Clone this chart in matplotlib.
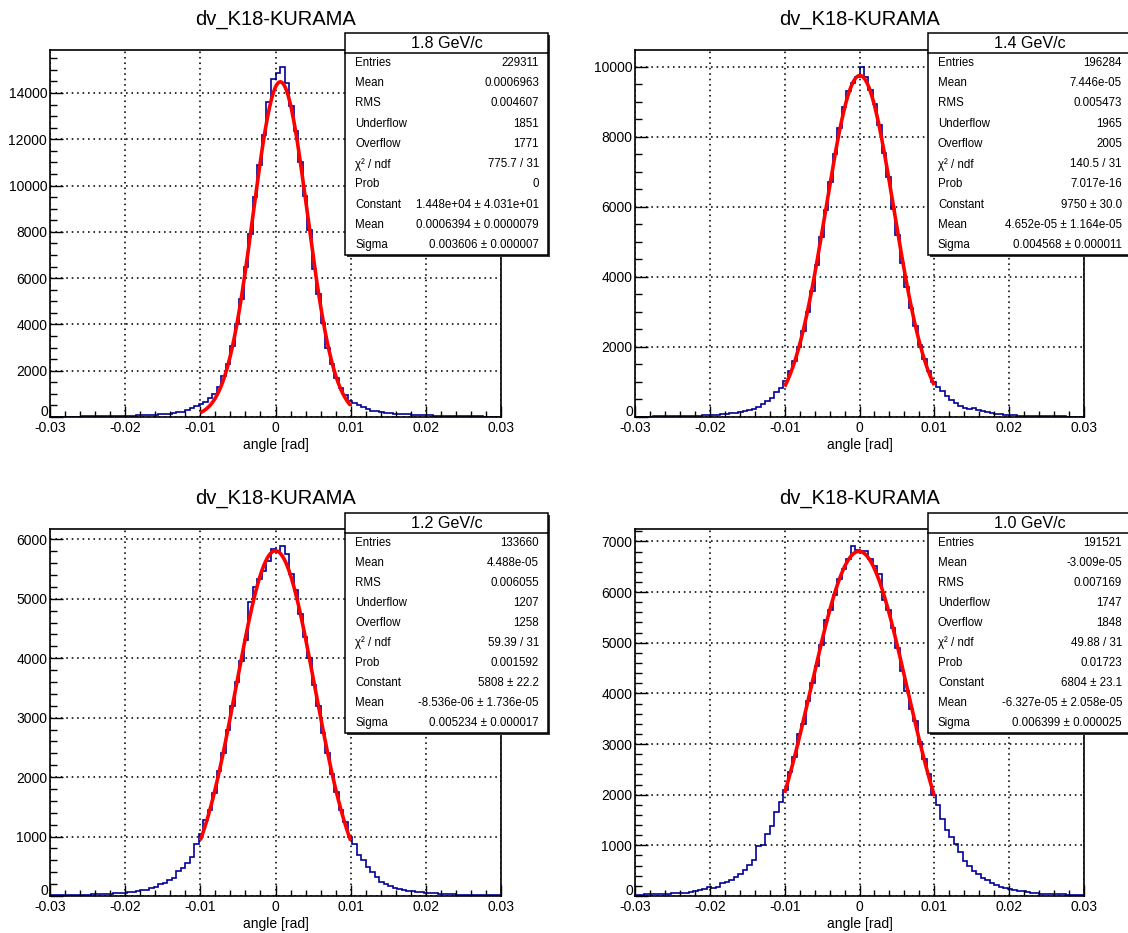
import numpy as np
import matplotlib
matplotlib.use("Agg")
import matplotlib.pyplot as plt
from matplotlib.patches import Rectangle
from matplotlib.ticker import MultipleLocator, FuncFormatter

plt.rcParams['font.family'] = ['Liberation Sans', 'DejaVu Sans']

W, H = 1128, 933
x_min, x_max, n_bins = -0.03, 0.03, 100
fit_lo, fit_hi = -0.01, 0.01

title = "dv_K18-KURAMA"
x_label = "angle [rad]"
momenta = ["1.8 GeV/c", "1.4 GeV/c", "1.2 GeV/c", "1.0 GeV/c"]

counts_18 = [10, 12, 14, 15, 17, 19, 21, 23, 25, 28, 30, 33, 36, 40, 44, 48, 52, 57, 62, 68,
             75, 82, 90, 100, 110, 125, 145, 165, 200, 230, 300, 400, 480,
             560, 650, 800, 1000, 1300, 1750, 2300, 3050, 4000, 5100,
             6500, 7900, 9500, 10900, 12200, 13600, 14600, 14850, 15100, 14450,
             13450, 12350, 11000, 9550, 8100, 6400, 5300, 4050, 3000, 2300,
             1700, 1250, 950, 700,
             620, 520, 420, 330, 280, 270, 210, 190, 170, 140, 130, 120, 110, 90, 80, 72, 70, 65, 60, 50,
             45, 40, 36, 33, 30, 28, 26, 24, 22, 20, 18, 17, 16]
counts_14 = [12, 12, 13, 14, 15, 16, 17, 18, 20, 22, 25, 28, 30, 35, 40, 45, 52, 60, 70, 80,
             95, 110, 125, 150, 170, 200, 240, 295, 380, 460, 550, 700, 840,
             1030, 1320, 1600, 2000, 2450, 3000, 3600, 4350, 5150, 5900,
             6700, 7500, 8250, 8850, 9300, 9550, 9700, 9980, 9700, 9350,
             8950, 8350, 7550, 6850, 5950, 5200, 4400, 3700, 3100, 2600,
             2050, 1650, 1300, 1000,
             870, 730, 590, 490, 390, 315, 250, 220, 260, 200, 160, 140, 110, 95, 75, 65, 55, 45, 40, 35,
             30, 27, 24, 22, 20, 18, 17, 16, 15, 14, 13, 12, 12]
counts_12 = [12, 12, 13, 14, 15, 17, 19, 21, 24, 27, 30, 33, 36, 40, 44, 48, 55, 62, 68, 78,
             95, 105, 135, 150, 205, 220, 265, 310, 420, 470, 560, 650, 870,
             1050, 1280, 1450, 1730, 2100, 2400, 2800, 3200, 3600, 3950,
             4300, 4950, 5200, 5330, 5470, 5640, 5840, 5780, 5880, 5750,
             5420, 5150, 4750, 4350, 4000, 3550, 3200, 2750, 2400, 2050,
             1750, 1450, 1250, 1000,
             880, 690, 600, 490, 410, 320, 240, 200, 165, 140, 120, 100, 90, 80, 70, 60, 55, 48, 45, 40,
             36, 32, 28, 25, 23, 21, 19, 17, 15, 14, 13, 12, 11]
counts_10 = [25, 28, 30, 32, 35, 38, 40, 45, 50, 55, 60, 65, 75, 95, 110, 130, 170, 165, 180, 260,
             280, 325, 380, 430, 510, 610, 710, 990, 1000, 1220, 1380, 1650, 1850,
             2100, 2450, 2750, 3200, 3400, 3850, 4200, 4550, 4950, 5450,
             5650, 5950, 6250, 6450, 6650, 6900, 6840, 6820, 6820, 6650,
             6520, 6350, 5850, 5650, 5300, 4900, 4450, 4050, 3700, 3450,
             3050, 2700, 2400, 2000,
             1800, 1520, 1300, 1170, 1020, 860, 690, 590, 500, 425, 365, 310, 260, 215, 180, 160, 140, 112, 93, 100,
             75, 62, 55, 48, 42, 38, 35, 32, 30, 28, 26, 25, 24]
all_counts = [counts_18, counts_14, counts_12, counts_10]

fit_constant = [14480, 9750, 5808, 6804]
fit_mean = [0.0006394, 4.652e-05, -8.536e-06, -6.327e-05]
fit_sigma = [0.003606, 0.004568, 0.005234, 0.006399]

stat_names = ["Entries", "Mean", "RMS", "Underflow", "Overflow", "χ² / ndf", "Prob",
              "Constant", "Mean", "Sigma"]
stats_18 = ["229311", "0.0006963", "0.004607", "1851", "1771", "775.7 / 31", "0",
            "1.448e+04 ± 4.031e+01", "0.0006394 ± 0.0000079", "0.003606 ± 0.000007"]
stats_14 = ["196284", "7.446e-05", "0.005473", "1965", "2005", "140.5 / 31", "7.017e-16",
            "9750 ± 30.0", "4.652e-05 ± 1.164e-05", "0.004568 ± 0.000011"]
stats_12 = ["133660", "4.488e-05", "0.006055", "1207", "1258", "59.39 / 31", "0.001592",
            "5808 ± 22.2", "-8.536e-06 ± 1.736e-05", "0.005234 ± 0.000017"]
stats_10 = ["191521", "-3.009e-05", "0.007169", "1747", "1848", "49.88 / 31", "0.01723",
            "6804 ± 23.1", "-6.327e-05 ± 2.058e-05", "0.006399 ± 0.000025"]
all_stats = [stats_18, stats_14, stats_12, stats_10]

y_major = [2000, 2000, 1000, 1000]
y_minor = [500, 500, 200, 200]

# layout in pixels (left, top, right, bottom)
axes_px = [(50, 50, 501, 417), (635, 50, 1084, 417), (50, 529, 501, 896), (635, 529, 1084, 896)]
box_px = [(345, 33, 548, 255), (928, 33, 1131, 255), (345, 513, 548, 733), (928, 513, 1131, 733)]

fig = plt.figure(figsize=(W / 100, H / 100), dpi=100)
fig.patch.set_facecolor('white')

def fx(px):
    return px / W

def fy(py):
    return 1 - py / H

def xfmt(v, p):
    if abs(v) < 1e-9:
        return "0"
    return "%g" % round(v, 4)

def yfmt(v, p):
    if abs(v) < 1e-9:
        return ""
    return "%d" % round(v)

edges = np.linspace(x_min, x_max, n_bins + 1)

for k in range(4):
    l, t, r, b = axes_px[k]
    ax = fig.add_axes([fx(l), fy(b), (r - l) / W, (b - t) / H])
    vals = np.array(all_counts[k], dtype=float)
    ax.stairs(vals, edges, color='#000099', lw=1.2, baseline=None)
    xf = np.linspace(fit_lo, fit_hi, 400)
    yf = fit_constant[k] * np.exp(-0.5 * ((xf - fit_mean[k]) / fit_sigma[k]) ** 2)
    ax.plot(xf, yf, color='#ff0000', lw=2.6, solid_capstyle='butt')
    ax.set_xlim(x_min, x_max)
    ax.set_ylim(0, vals.max() * 1.05)
    ax.xaxis.set_major_locator(MultipleLocator(0.01))
    ax.xaxis.set_minor_locator(MultipleLocator(0.002))
    ax.yaxis.set_major_locator(MultipleLocator(y_major[k]))
    ax.yaxis.set_minor_locator(MultipleLocator(y_minor[k]))
    ax.xaxis.set_major_formatter(FuncFormatter(xfmt))
    ax.yaxis.set_major_formatter(FuncFormatter(yfmt))
    ax.tick_params(axis='both', which='both', direction='in', top=False, right=False,
                   labelsize=10, color='black')
    ax.tick_params(axis='y', which='major', length=9.5, width=1.0, pad=2)
    ax.tick_params(axis='y', which='minor', length=4.8, width=1.0)
    ax.tick_params(axis='x', which='major', length=8, width=1.0, pad=3)
    ax.tick_params(axis='x', which='minor', length=4, width=1.0)
    ax.grid(True, which='major', color='black', linestyle=(0, (1, 2.4)), lw=1.15)
    for s in ax.spines.values():
        s.set_linewidth(1.2)
        s.set_color('black')
    ax.set_xlabel(x_label, fontsize=10, labelpad=2)
    # y-axis zero label, nudged up slightly so it does not sit on the x label
    ax.annotate("0", xy=(0, 0), xycoords=('axes fraction', 'data'),
                xytext=(-2, 5), textcoords='offset pixels', ha='right', va='center', fontsize=10)
    # title
    cx = (l + r) / 2
    fig.text(fx(cx), fy(t - 31), title, fontsize=14.5, ha='center', va='center')
    # stats box
    bl, bt, br, bb = box_px[k]
    shadow = Rectangle((fx(bl + 2), fy(bb + 2)), (br - bl) / W, (bb - bt) / H,
                       transform=fig.transFigure, facecolor='#333333', edgecolor='none', zorder=9)
    fig.add_artist(shadow)
    box = Rectangle((fx(bl), fy(bb)), (br - bl) / W, (bb - bt) / H,
                    transform=fig.transFigure, facecolor='white', edgecolor='black', lw=1.1, zorder=10)
    fig.add_artist(box)
    hb = bt + 20
    fig.add_artist(plt.Line2D([fx(bl), fx(br)], [fy(hb), fy(hb)], transform=fig.transFigure,
                              color='black', lw=1.1, zorder=11))
    fig.text(fx((bl + br) / 2), fy(bt + 10.5), momenta[k], fontsize=11.6, ha='center', va='center', zorder=12)
    rh = (bb - hb) / 10
    for j, name in enumerate(stat_names):
        yy = hb + rh * (j + 0.5)
        fig.text(fx(bl + 10), fy(yy), name, fontsize=8.3, ha='left', va='center', zorder=12)
        fig.text(fx(br - 9), fy(yy), all_stats[k][j], fontsize=8.3, ha='right', va='center', zorder=12)

fig.savefig("out.png", dpi=100)
